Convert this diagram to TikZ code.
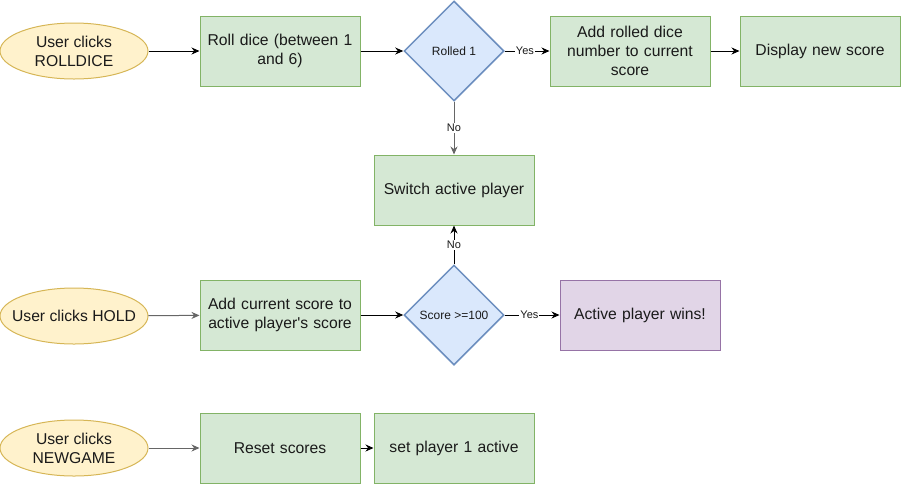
\documentclass[tikz,border=0pt]{standalone}
\usepackage{fontspec}
\setmainfont{Liberation Sans}[Ligatures=TeXOff]
\usetikzlibrary{shapes.geometric,arrows.meta}
\definecolor{gfill}{HTML}{D5E8D4}\definecolor{gdraw}{HTML}{82B366}
\definecolor{yfill}{HTML}{FFF2CC}\definecolor{ydraw}{HTML}{D6B656}
\definecolor{bfill}{HTML}{DAE8FC}\definecolor{bdraw}{HTML}{6C8EBF}
\definecolor{pfill}{HTML}{E1D5E7}\definecolor{pdraw}{HTML}{9673A6}
\definecolor{txt}{HTML}{1A1A1A}
\tikzset{
  box/.style={rectangle, fill=gfill, draw=gdraw, line width=1pt, minimum width=160pt, minimum height=70pt, text width=156pt, align=center, inner sep=0pt, font=\fontsize{15.7}{19}\selectfont, text=txt},
  pbox/.style={box, fill=pfill, draw=pdraw},
  evt/.style={ellipse, fill=yfill, draw=ydraw, line width=1pt, minimum width=148pt, minimum height=56pt, inner sep=0pt, align=center, font=\fontsize{15.7}{19}\selectfont, text=txt},
  dec/.style={diamond, fill=bfill, draw=bdraw, line width=1.5pt, minimum width=100pt, minimum height=100pt, inner sep=0pt, align=center, font=\fontsize{12}{14}\selectfont, text=txt},
  conn/.style={draw=black, line width=1pt, -{Stealth[length=8pt,width=7pt]}},
  lbl/.style={fill=white, inner sep=1pt, font=\fontsize{11}{13}\selectfont, text=txt},
}
\begin{document}
\begin{tikzpicture}[x=1pt,y=-1pt]
\useasboundingbox (0,0) rectangle (901,483);
\node[evt] (e1) at (74,51) {User clicks\\ROLLDICE};
\node[box] (roll) at (280,51) {Roll dice (between 1\\and 6)};
\node[dec] (d1) at (454,51) {Rolled 1};
\node[box] (add) at (630,51) {Add rolled dice\\number to current\\score};
\node[box] (disp) at (820,51) {Display new score};
\node[box] (sw) at (454,190) {Switch active player};
\node[evt] (e2) at (74,316) {\makebox[0pt][c]{User clicks HOLD}};
\node[box] (addc) at (280,315) {Add current score to\\active player's score};
\node[dec] (d2) at (454,315) {Score >=100};
\node[pbox] (win) at (640,315) {Active player wins!};
\node[evt] (e3) at (74,448) {User clicks\\NEWGAME};
\node[box] (reset) at (280,448) {Reset scores};
\node[box] (set) at (454,448) {set player 1 active};

\draw[conn] (e1) -- (roll);
\draw[conn] (roll) -- (d1);
\draw[conn] (d1) -- node[lbl, pos=0.45] {Yes} (add);
\draw[conn] (add) -- (disp);
\draw[conn, draw=gray!80!black] (d1) -- node[lbl] {No} (sw);
\draw[conn] (d2) -- node[lbl] {No} (sw);
\draw[conn, draw=gray!80!black] (e2) -- (addc);
\draw[conn] (addc) -- (d2);
\draw[conn] (d2) -- node[lbl, pos=0.45] {Yes} (win);
\draw[conn, draw=gray!80!black] (e3) -- (reset);
\draw[conn] (reset) -- (set);
\end{tikzpicture}
\end{document}
